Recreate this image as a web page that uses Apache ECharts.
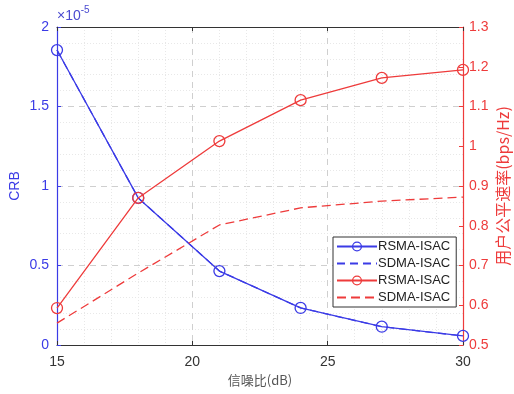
<!DOCTYPE html>
<html>
<head>
<meta charset="utf-8">
<script src="https://cdn.jsdelivr.net/npm/echarts@6/dist/echarts.min.js"></script>
<style>
  html, body { margin: 0; padding: 0; background: #fff; }
  #chart { width: 514px; height: 394px; }
</style>
</head>
<body>
<div id="chart"></div>
<script>
// SNR values (dB)
const snr = [15, 18, 21, 24, 27, 30];
// CRB (×1e-5), left axis
const rsmaCrb = [1.855, 0.925, 0.465, 0.233, 0.115, 0.057];
const sdmaCrb = [1.855, 0.925, 0.465, 0.233, 0.115, 0.057];
// User fair rate (bps/Hz), right axis
const rsmaRate = [0.593, 0.870, 1.013, 1.116, 1.172, 1.192];
const sdmaRate = [0.555, 0.681, 0.802, 0.845, 0.862, 0.872];

const legendNames = ['RSMA-ISAC', 'SDMA-ISAC', 'RSMA-ISAC ', 'SDMA-ISAC '];

const BLUE = '#3b3be6';
const RED = '#ee3b3b';
const FONT = '"Liberation Sans", Arial, sans-serif';

const pairs = (xs, ys) => xs.map((x, i) => [x, ys[i]]);
const hidden = { color: 'transparent', borderColor: 'transparent', borderWidth: 0 };

const chart = echarts.init(document.getElementById('chart'));
chart.setOption({
  animation: false,
  textStyle: { fontFamily: FONT },
  grid: { left: 57, right: 51, top: 27, bottom: 49, outerBoundsMode: 'none', containLabel: false },
  graphic: [{
    type: 'text',
    left: 57,
    top: 5,
    style: {
      text: '{a|×10}{b|-5}',
      rich: {
        a: { fontSize: 14, fill: '#4a4ad0', fontFamily: FONT, padding: [6, 0, 0, 0] },
        b: { fontSize: 10, fill: '#4a4ad0', fontFamily: FONT, padding: [0, 0, 6, 0] }
      }
    }
  }],
  legend: {
    left: 333,
    top: 237,
    orient: 'vertical',
    itemWidth: 40,
    itemHeight: 11,
    itemGap: 4,
    padding: [3, 6, 3, 3],
    backgroundColor: '#fff',
    borderColor: '#333',
    borderWidth: 1,
    borderRadius: 0,
    selectedMode: false,
    formatter: n => n.trim(),
    textStyle: { fontSize: 13, color: '#222', fontFamily: FONT, padding: [0, 0, 0, -4] },
    data: [
      { name: legendNames[0], itemStyle: { color: 'transparent', borderColor: BLUE, borderWidth: 1.3 } },
      { name: legendNames[1], itemStyle: hidden },
      { name: legendNames[2], itemStyle: { color: 'transparent', borderColor: RED, borderWidth: 1.3 } },
      { name: legendNames[3], itemStyle: hidden }
    ]
  },
  xAxis: [{
    type: 'value',
    min: 15, max: 30, interval: 5,
    name: '信噪比(dB)',
    nameLocation: 'middle',
    nameGap: 29,
    nameTextStyle: { fontSize: 13, color: '#555', fontFamily: '"Noto Sans CJK SC", sans-serif' },
    axisLine: { lineStyle: { color: '#333' } },
    axisTick: { inside: true, length: 4, lineStyle: { color: '#333' } },
    axisLabel: { fontSize: 14, color: '#333', margin: 10 },
    splitLine: { show: true, lineStyle: { color: '#cfcfcf', type: [6, 5] } },
    minorTick: { show: false, splitNumber: 5 },
    minorSplitLine: { show: true, lineStyle: { color: '#e8e8e8', type: [1, 2] } }
  }, {
    type: 'value',
    position: 'top',
    min: 15, max: 30, interval: 5,
    axisLine: { lineStyle: { color: '#333' } },
    axisTick: { inside: true, length: 4, lineStyle: { color: '#333' } },
    axisLabel: { show: false },
    splitLine: { show: false }
  }],
  yAxis: [{
    type: 'value',
    min: 0, max: 2, interval: 0.5,
    name: 'CRB',
    nameLocation: 'middle',
    nameGap: 35,
    nameMoveOverlap: false,
    nameTextStyle: { fontSize: 14, color: BLUE },
    axisLine: { show: true, lineStyle: { color: BLUE, width: 1.2 } },
    axisTick: { inside: true, length: 4, lineStyle: { color: BLUE } },
    axisLabel: { fontSize: 14, color: BLUE, margin: 8 },
    splitLine: { show: true, lineStyle: { color: '#cfcfcf', type: [6, 5] } },
    minorTick: { show: false, splitNumber: 5 },
    minorSplitLine: { show: true, lineStyle: { color: '#e8e8e8', type: [1, 2] } }
  }, {
    type: 'value',
    min: 0.5, max: 1.3, interval: 0.1,
    name: '用户公平速率(bps/Hz)',
    nameLocation: 'middle',
    nameGap: 32,
    nameMoveOverlap: false,
    nameRotate: 90,
    nameTextStyle: { fontSize: 16, color: RED, fontFamily: '"Noto Sans CJK SC", sans-serif' },
    axisLine: { show: true, lineStyle: { color: RED, width: 1.2 } },
    axisTick: { inside: true, length: 4, lineStyle: { color: RED } },
    axisLabel: {
      fontSize: 14, color: RED, margin: 6,
      formatter: v => String(Math.round(v * 10) / 10)
    },
    splitLine: { show: false }
  }],
  series: [{
    name: legendNames[1],
    type: 'line',
    yAxisIndex: 0,
    data: pairs(snr, sdmaCrb),
    symbol: 'none',
    z: 2,
    lineStyle: { color: BLUE, width: 1.3, type: [8, 5] },
    itemStyle: { color: BLUE }
  }, {
    name: legendNames[0],
    type: 'line',
    yAxisIndex: 0,
    data: pairs(snr, rsmaCrb),
    symbol: 'circle',
    symbolSize: 11,
    z: 3,
    lineStyle: { color: BLUE, width: 1.3 },
    itemStyle: { color: 'transparent', borderColor: BLUE, borderWidth: 1.3 }
  }, {
    name: legendNames[2],
    type: 'line',
    yAxisIndex: 1,
    data: pairs(snr, rsmaRate),
    symbol: 'circle',
    symbolSize: 11,
    z: 4,
    lineStyle: { color: RED, width: 1.3 },
    itemStyle: { color: 'transparent', borderColor: RED, borderWidth: 1.3 }
  }, {
    name: legendNames[3],
    type: 'line',
    yAxisIndex: 1,
    data: pairs(snr, sdmaRate),
    symbol: 'none',
    z: 4,
    lineStyle: { color: RED, width: 1.3, type: [9, 5] },
    itemStyle: { color: RED }
  }]
});
</script>
</body>
</html>
